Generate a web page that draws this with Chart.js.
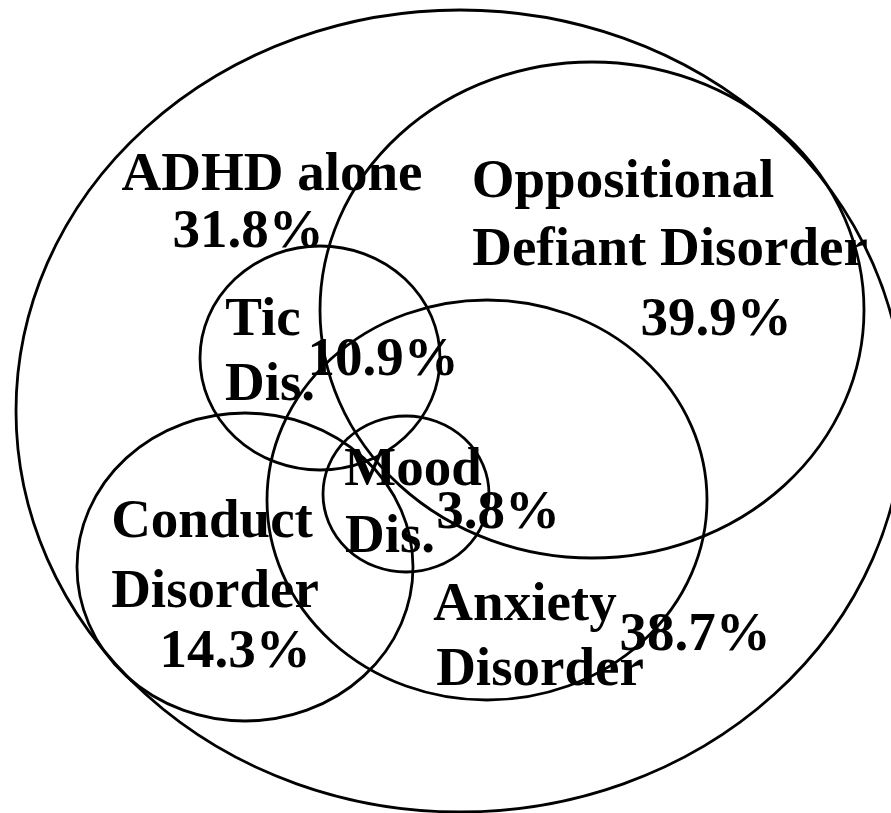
<!DOCTYPE html>
<html><head><meta charset="utf-8">
<script src="https://cdn.jsdelivr.net/npm/chart.js@4/dist/chart.umd.min.js"></script>
<style>html,body{margin:0;padding:0;background:#fff;overflow:hidden}canvas{display:block}</style>
</head><body>
<canvas id="c" width="891" height="813"></canvas>
<script>
// Sets (ellipses) in chart units
const setNames = ['ADHD', 'Oppositional Defiant Disorder', 'Tic Dis.', 'Anxiety Disorder', 'Conduct Disorder', 'Mood Dis.'];
const setCx = [460, 592, 320, 487, 245, 406];
const setCy = [411, 310, 358, 500, 567, 494];
const setRx = [444, 272, 120, 220, 168, 83];
const setRy = [401, 248, 112, 200, 154, 78];

// Region labels and percentages
const regionNames = [['ADHD alone'], ['Oppositional', 'Defiant Disorder'], ['Tic', 'Dis.'], ['Mood', 'Dis.'], ['Conduct', 'Disorder'], ['Anxiety', 'Disorder']];
const percentages = [31.8, 39.9, 10.9, 3.8, 14.3, 38.7];

// Label anchors (chart units): name line centers / baselines, percentage center / baseline
const nameX = [[272], [623, 670], [263, 270], [413, 390], [212, 215], [525, 540]];
const nameY = [[190], [197, 265], [335, 400], [485, 552], [537, 607], [620, 685]];
const pctX = [248, 716, 383, 498, 235, 695];
const pctY = [247, 335, 375, 528, 667, 650];

const vennPlugin = {
  id: 'venn',
  afterDatasetsDraw(chart) {
    const ctx = chart.ctx, xs = chart.scales.x, ys = chart.scales.y;
    ctx.save();
    ctx.strokeStyle = '#000';
    ctx.lineWidth = 2.8;
    for (let i = 0; i < setCx.length; i++) {
      const px = xs.getPixelForValue(setCx[i]);
      const py = ys.getPixelForValue(setCy[i]);
      const rx = Math.abs(xs.getPixelForValue(setCx[i] + setRx[i]) - px);
      const ry = Math.abs(ys.getPixelForValue(setCy[i] + setRy[i]) - py);
      ctx.beginPath();
      ctx.ellipse(px, py, rx, ry, 0, 0, Math.PI * 2);
      ctx.stroke();
    }
    ctx.fillStyle = '#000';
    ctx.font = 'bold 55px "Liberation Serif", "Times New Roman", serif';
    ctx.textAlign = 'center';
    ctx.textBaseline = 'alphabetic';
    for (let i = 0; i < regionNames.length; i++) {
      regionNames[i].forEach((t, j) => {
        ctx.fillText(t, xs.getPixelForValue(nameX[i][j]), ys.getPixelForValue(nameY[i][j]));
      });
      ctx.fillText(percentages[i].toFixed(1) + '%', xs.getPixelForValue(pctX[i]), ys.getPixelForValue(pctY[i]));
    }
    ctx.restore();
  }
};

new Chart(document.getElementById('c'), {
  type: 'scatter',
  data: {
    datasets: [{
      label: 'Set centers',
      data: setCx.map((x, i) => ({ x: x, y: setCy[i] })),
      pointRadius: 0,
      showLine: false
    }]
  },
  options: {
    responsive: false,
    animation: false,
    devicePixelRatio: 1,
    layout: { padding: 0 },
    plugins: { legend: { display: false }, tooltip: { enabled: false } },
    scales: {
      x: { type: 'linear', min: 0, max: 891, display: false },
      y: { type: 'linear', min: 0, max: 813, reverse: true, display: false }
    }
  },
  plugins: [vennPlugin]
});
</script>
</body></html>
